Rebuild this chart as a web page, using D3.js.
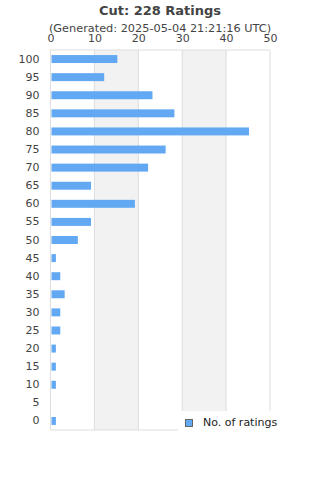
<!DOCTYPE html>
<html>
<head>
<meta charset="utf-8">
<script src="https://cdn.jsdelivr.net/npm/d3@7"></script>
<style>
  body { margin: 0; background: #fff; }
  svg { display: block; font-family: "DejaVu Sans", sans-serif; }
</style>
</head>
<body>
<div id="chart"></div>
<script>
  // ratings buckets, top to bottom
  const categories = ['100', '95', '90', '85', '80', '75', '70', '65', '60', '55', '50',
                      '45', '40', '35', '30', '25', '20', '15', '10', '5', '0'];
  const counts = [15, 12, 23, 28, 45, 26, 22, 9, 19, 9, 6, 1, 2, 3, 2, 2, 1, 1, 1, 0, 1];
  const xTicks = [0, 10, 20, 30, 40, 50];

  const width = 320, height = 480;
  const margin = { top: 50, left: 50.5, right: 50, bottom: 50 };
  const plotW = 270 - margin.left, plotH = 430 - margin.top;

  const svg = d3.select('#chart')
    .append('svg')
    .attr('width', width)
    .attr('height', height);

  const x = d3.scaleLinear().domain([0, 50]).range([margin.left, margin.left + plotW]);
  const y = d3.scaleBand().domain(categories)
    .range([margin.top, margin.top + plotH])
    .paddingInner(0.56).paddingOuter(0.28);

  // alternating bands
  for (let i = 0; i < xTicks.length - 1; i++) {
    if (i % 2 === 1) {
      svg.append('rect')
        .attr('x', x(xTicks[i]))
        .attr('y', margin.top)
        .attr('width', x(xTicks[i + 1]) - x(xTicks[i]))
        .attr('height', plotH)
        .attr('fill', '#f2f2f2');
    }
  }

  // grid lines
  svg.selectAll('.grid')
    .data(xTicks)
    .enter()
    .append('line')
    .attr('x1', d => x(d)).attr('x2', d => x(d))
    .attr('y1', margin.top).attr('y2', margin.top + plotH)
    .attr('stroke', '#dddddd')
    .attr('stroke-width', 1);

  svg.append('line')
    .attr('x1', margin.left).attr('x2', margin.left + plotW)
    .attr('y1', margin.top).attr('y2', margin.top)
    .attr('stroke', '#dddddd');
  svg.append('line')
    .attr('x1', margin.left).attr('x2', margin.left + plotW)
    .attr('y1', margin.top + plotH).attr('y2', margin.top + plotH)
    .attr('stroke', '#dddddd');

  // bars
  svg.selectAll('.bar')
    .data(categories)
    .enter()
    .append('rect')
    .attr('class', 'bar')
    .attr('x', x(0) + 1)
    .attr('y', d => y(d))
    .attr('width', (d, i) => Math.max(0, x(counts[i]) - x(0)))
    .attr('height', y.bandwidth())
    .attr('fill', '#62a8f3');

  // top axis
  const xAxis = svg.append('g')
    .attr('transform', 'translate(0,42)')
    .call(d3.axisTop(x).tickValues(xTicks).tickSize(0).tickPadding(0));
  xAxis.select('.domain').remove();
  xAxis.selectAll('text')
    .attr('font-size', 11)
    .attr('font-family', '"DejaVu Sans", sans-serif')
    .attr('fill', '#444');

  // left axis
  const yAxis = svg.append('g')
    .attr('transform', `translate(${margin.left - 11},0)`)
    .call(d3.axisLeft(y).tickSize(0).tickPadding(0));
  yAxis.select('.domain').remove();
  yAxis.selectAll('text')
    .attr('font-size', 11)
    .attr('font-family', '"DejaVu Sans", sans-serif')
    .attr('fill', '#444');

  // titles
  svg.append('text')
    .attr('x', 160).attr('y', 15)
    .attr('text-anchor', 'middle')
    .attr('font-size', 13)
    .attr('font-weight', 'bold')
    .attr('fill', '#444')
    .text('Cut: 228 Ratings');

  svg.append('text')
    .attr('x', 160).attr('y', 32)
    .attr('text-anchor', 'middle')
    .attr('font-size', 11.3)
    .attr('fill', '#444')
    .text('(Generated: 2025-05-04 21:21:16 UTC)');

  // legend
  const legend = svg.append('g');
  legend.append('rect')
    .attr('x', 178).attr('y', 411)
    .attr('width', 142).attr('height', 22)
    .attr('fill', '#fff');
  legend.append('rect')
    .attr('x', 185.5).attr('y', 419.5)
    .attr('width', 7).attr('height', 7)
    .attr('fill', '#62a8f3')
    .attr('stroke', '#666');
  legend.append('text')
    .attr('x', 203).attr('y', 426)
    .attr('font-size', 11)
    .attr('fill', '#222')
    .text('No. of ratings');
</script>
</body>
</html>
